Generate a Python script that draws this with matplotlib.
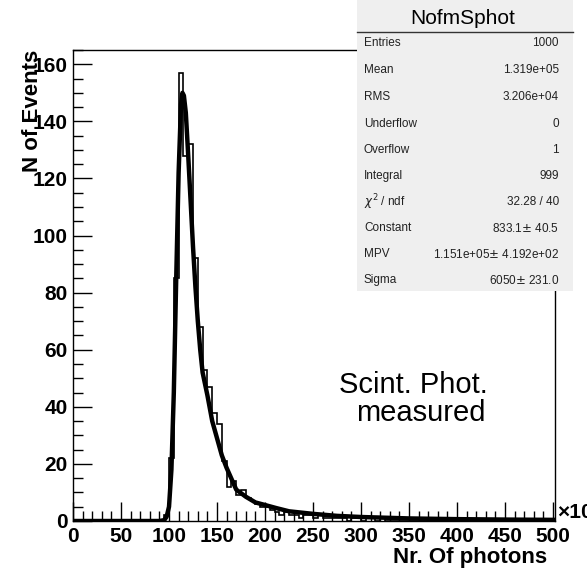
import matplotlib
matplotlib.use("Agg")
import matplotlib.pyplot as plt
from matplotlib.patches import Rectangle
from matplotlib.ticker import MultipleLocator

plt.rcParams['font.family'] = ['Liberation Sans', 'DejaVu Sans']

# histogram: 5k-photon bins (value in units of 10^3 photons)
bin_width = 5
bin_starts = [95, 100, 105, 110, 115, 120, 125, 130, 135, 140, 145, 150, 155,
              160, 165, 170, 175, 180, 185, 190, 195, 200, 205, 210, 215, 220,
              225, 230, 235, 240, 245, 250, 255, 260, 265, 270, 275, 280, 285,
              290, 295, 300, 305, 310, 315, 320]
bin_counts = [2, 22, 85, 157, 128, 132, 92, 68, 53, 47, 38, 34, 21,
              12, 14, 9, 11, 8, 7, 6, 5, 5, 4, 3, 2, 3,
              2, 2, 1, 2, 2, 1, 2, 1, 1, 1, 1, 1, 0,
              1, 1, 0, 1, 1, 0, 1]

# landau fit curve
fit_x = [0, 90, 95, 97.5, 100, 102.5, 105, 107.5, 110, 112.5, 114, 115.5, 117.5,
         120, 122.5, 125, 127.5, 130, 132.5, 135, 137.5, 140, 145, 150, 155, 160,
         170, 180, 190, 200, 212, 225, 250, 275, 300, 350, 400, 450, 500]
fit_y = [0, 0, 0.3, 1.5, 5, 18, 45, 85, 122, 146, 150, 149, 143,
         128, 112, 96, 82, 70, 60, 52, 48, 44, 35, 29, 23, 18.6,
         11, 8.5, 6.5, 5.6, 4.5, 3.4, 2.5, 1.8, 1.4, 0.9, 0.65, 0.5, 0.4]

stats_labels = ["Entries", "Mean", "RMS", "Underflow", "Overflow", "Integral",
                r"$\chi^2$ / ndf", "Constant", "MPV", "Sigma"]
stats_values = ["1000", "1.319e+05", "3.206e+04", "0", "1", "999",
                "32.28 / 40", "833.1$\\pm$ 40.5", "1.151e+05$\\pm$ 4.192e+02",
                "6050$\\pm$ 231.0"]

W, H = 587, 578
fig = plt.figure(figsize=(W / 100, H / 100), dpi=100)
ax = fig.add_axes([73 / W, 1 - 521 / H, (555 - 73) / W, (521 - 50) / H])

edges = [0] + [s for s in bin_starts] + [bin_starts[-1] + bin_width, 502]
counts = [0] + bin_counts + [0]
ax.stairs(counts, edges, color='black', lw=1.2)
ax.plot(fit_x, fit_y, color='black', lw=3.2)

ax.set_xlim(0, 502)
ax.set_ylim(0, 165)
ax.xaxis.set_major_locator(MultipleLocator(50))
ax.xaxis.set_minor_locator(MultipleLocator(10))
ax.yaxis.set_major_locator(MultipleLocator(20))
ax.yaxis.set_minor_locator(MultipleLocator(5))
ax.tick_params(which='major', direction='in', length=14, width=1, labelsize=15, pad=4)
ax.tick_params(which='minor', direction='in', length=7, width=1)
for lab in ax.get_xticklabels() + ax.get_yticklabels():
    lab.set_fontweight('bold')
for s in ax.spines.values():
    s.set_linewidth(1)

fig.text(547 / W, 1 - 558 / H, "Nr. Of photons", ha='right', va='center',
         fontsize=16, fontweight='bold')
fig.text(33 / W, 1 - 50 / H, "N of Events", ha='center', va='top', rotation=90,
         fontsize=16, fontweight='bold')
fig.text(557 / W, 1 - 512 / H, "\u00d710", ha='left', va='center', fontsize=15,
         fontweight='bold')

fig.text(413 / W, 1 - 385 / H, "Scint. Phot.", ha='center', va='center', fontsize=21)
fig.text(421 / W, 1 - 413 / H, "measured", ha='center', va='center', fontsize=21)

# stats box
bx0, bx1, by1 = 357, 573, 291
fig.patches.append(Rectangle((bx0 / W, 1 - by1 / H), (bx1 - bx0) / W, by1 / H,
                             transform=fig.transFigure, facecolor='#efefef',
                             edgecolor='none', zorder=5))
fig.add_artist(plt.Line2D([bx0 / W, bx1 / W], [1 - 32 / H, 1 - 32 / H],
                          transform=fig.transFigure, color='#333333', lw=1, zorder=6))
fig.text(463 / W, 1 - 18 / H, "NofmSphot", ha='center', va='center',
         fontsize=15, zorder=7)
row_y = [43, 70, 97, 124, 150, 176, 202, 228, 254, 280]
for lab, val, yy in zip(stats_labels, stats_values, row_y):
    fig.text(364 / W, 1 - yy / H, lab, ha='left', va='center', fontsize=8.5,
             color='#222222', zorder=7)
    fig.text(559 / W, 1 - yy / H, val, ha='right', va='center', fontsize=8.5,
             color='#222222', zorder=7)

fig.savefig("out.png", dpi=100)
